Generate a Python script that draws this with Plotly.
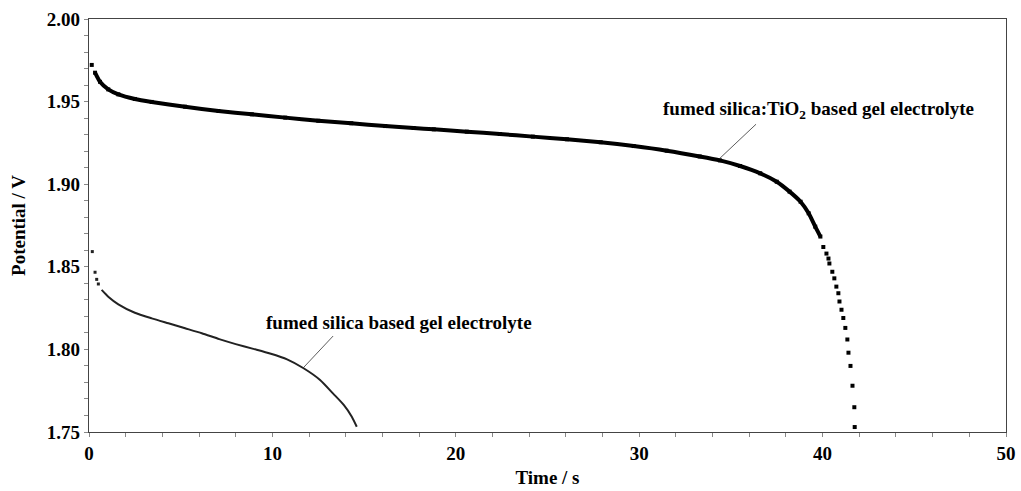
import plotly.graph_objects as go

# fumed silica:TiO2 based gel electrolyte (time s, potential V)
tio2_time = [0.15, 0.33, 0.6, 1.05, 1.6, 2.5, 3.42, 5.24, 7.06, 8.88, 10.7, 12.5, 14.3,
             16.15, 17.7, 18.8, 20.6, 22.4, 24.2, 26.06, 27.9, 29.7, 31.5, 33.3, 34.4,
             35.5, 36.6, 37.5, 38.2, 38.8, 39.24, 39.6, 39.88,
             40.04, 40.21, 40.32, 40.37, 40.53, 40.64, 40.75, 40.86, 40.92, 41.03,
             41.13, 41.24, 41.35, 41.41, 41.52, 41.63, 41.73, 41.75]
tio2_volt = [1.9722, 1.9675, 1.962, 1.9574, 1.9544, 1.9516, 1.9498, 1.9469, 1.9443, 1.9423,
             1.9403, 1.9384, 1.9369, 1.9352, 1.9340, 1.9332, 1.9318, 1.9304, 1.9288, 1.9272,
             1.9254, 1.9231, 1.9203, 1.9168, 1.9144, 1.911, 1.9066, 1.9015, 1.8955, 1.8894,
             1.8824, 1.8743, 1.8683,
             1.862, 1.858, 1.855, 1.852, 1.847, 1.843, 1.838, 1.834, 1.829, 1.824,
             1.819, 1.813, 1.806, 1.798, 1.790, 1.778, 1.765, 1.753]

# fumed silica based gel electrolyte
silica_time = [0.18, 0.33, 0.42, 0.51, 0.69, 1.05, 1.6, 2.5, 3.42, 4.33, 5.24, 6.15, 7.1,
               8.0, 8.96, 9.87, 10.8, 11.7, 12.6, 13.3, 13.9, 14.33, 14.6]
silica_volt = [1.8592, 1.8467, 1.8424, 1.8396, 1.836, 1.8319, 1.8273, 1.8222, 1.8188, 1.8158,
               1.8128, 1.8098, 1.8062, 1.8032, 1.8003, 1.7975, 1.794, 1.7886, 1.7815, 1.7734,
               1.7663, 1.7593, 1.7532]

x_ticks = [0, 10, 20, 30, 40, 50]
y_ticks = [1.75, 1.80, 1.85, 1.90, 1.95, 2.00]

label_tio2 = "fumed silica:TiO<sub>2</sub> based gel electrolyte"
label_silica = "fumed silica based gel electrolyte"

TIO2_LINE_START, TIO2_LINE_END = 1, 33   # continuous (dense) part of the record
SIL_LINE_START = 4

FONT = "Liberation Serif"

fig = go.Figure()
fig.add_trace(go.Scatter(x=tio2_time[TIO2_LINE_START:TIO2_LINE_END],
                         y=tio2_volt[TIO2_LINE_START:TIO2_LINE_END],
                         mode="lines", line=dict(color="black", width=4, shape="spline", smoothing=0.6),
                         showlegend=False, hoverinfo="skip"))
fig.add_trace(go.Scatter(x=tio2_time, y=tio2_volt, mode="markers",
                         marker=dict(symbol="square", size=4, color="black"),
                         showlegend=False))
fig.add_trace(go.Scatter(x=silica_time[SIL_LINE_START:], y=silica_volt[SIL_LINE_START:],
                         mode="lines", line=dict(color="#222", width=2, shape="spline", smoothing=0.6),
                         showlegend=False, hoverinfo="skip"))
fig.add_trace(go.Scatter(x=silica_time[:SIL_LINE_START], y=silica_volt[:SIL_LINE_START],
                         mode="markers",
                         marker=dict(symbol="square", size=3, color="#222"),
                         showlegend=False))

# leader lines
fig.add_shape(type="line", xref="x", yref="y", x0=34.4, y0=1.9157, x1=36.37, y1=1.9363,
              line=dict(color="#333", width=0.8))
fig.add_shape(type="line", xref="x", yref="y", x0=11.67, y0=1.7887, x1=13.31, y1=1.8081,
              line=dict(color="#333", width=0.8))

fig.add_annotation(x=31.2, y=1.945, xref="x", yref="y", text="<b>" + label_tio2 + "</b>",
                   showarrow=False, xanchor="left", yanchor="middle",
                   font=dict(family=FONT, size=19, color="black"))
fig.add_annotation(x=9.55, y=1.816, xref="x", yref="y", text="<b>" + label_silica + "</b>",
                   showarrow=False, xanchor="left", yanchor="middle",
                   font=dict(family=FONT, size=19, color="black"))

axis_common = dict(showgrid=False, zeroline=False, showline=True, linecolor="#444",
                   linewidth=1.2, mirror=True, ticks="outside", ticklen=4, tickcolor="#888",
                   tickwidth=1, automargin=False,
                   tickfont=dict(family=FONT, size=19, color="black", weight="bold"))

fig.update_xaxes(range=[0, 50], tickvals=x_ticks, ticktext=[str(v) for v in x_ticks],
                 minor=dict(dtick=2, ticks="outside", ticklen=4, tickcolor="#888"),
                 title=dict(text="<b>Time / s</b>", font=dict(family=FONT, size=19, color="black"),
                            standoff=7),
                 **axis_common)
fig.update_yaxes(range=[1.75, 2.00], tickvals=y_ticks, ticktext=[f"{v:.2f}" for v in y_ticks],
                 minor=dict(dtick=0.01, ticks="outside", ticklen=4, tickcolor="#888"),
                 title=dict(text="<b>Potential / V</b>", font=dict(family=FONT, size=19, color="black"),
                            standoff=16),
                 **axis_common)

fig.update_layout(width=1021, height=491, margin=dict(l=89, r=15, t=19, b=59),
                  plot_bgcolor="white", paper_bgcolor="white", showlegend=False)

fig.write_html("out.html", config={"displayModeBar": False},
               post_script="document.body.style.margin='0';document.body.style.overflow='hidden';")
